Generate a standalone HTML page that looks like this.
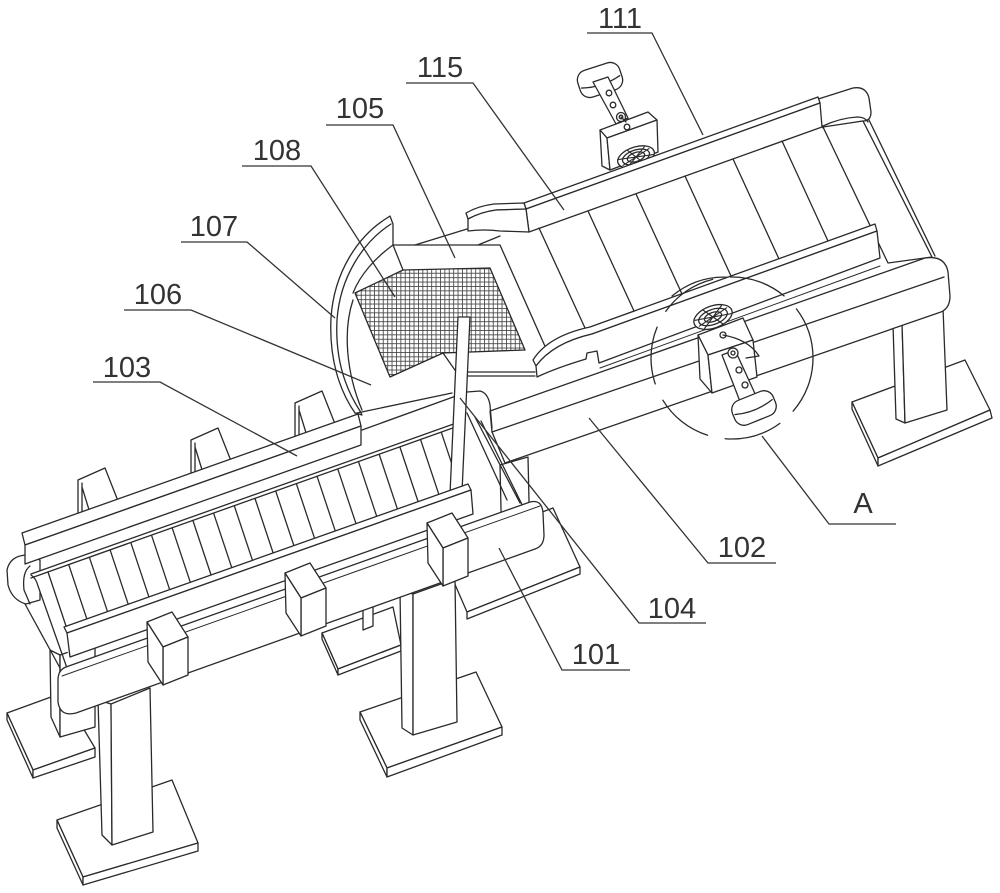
<!DOCTYPE html>
<html><head><meta charset="utf-8"><style>
html,body{margin:0;padding:0;background:#fff;}
svg{display:block;}
text{font-family:"Liberation Sans",sans-serif;font-size:29px;fill:#333;}
</style></head><body>
<svg width="1000" height="893" viewBox="0 0 1000 893" xmlns="http://www.w3.org/2000/svg">
<defs>
<pattern id="grid" width="4.4" height="4.4" patternUnits="userSpaceOnUse">
<rect width="4.4" height="4.4" fill="#fff"/>
<path d="M0 0.4H4.4M0.4 0V4.4" stroke="#444" stroke-width="0.9" fill="none"/>
</pattern>
</defs>
<rect width="1000" height="893" fill="#fff"/>
<g fill="#fff" stroke="#2a2a2a" stroke-width="1.3" stroke-linejoin="round" stroke-linecap="round">

<!-- ===== Upper conveyor right foot & leg ===== -->
<polygon points="852,402 965,360 990,410 878,458"/>
<polygon points="852,402 878,458 878,466 852,409"/>
<polygon points="878,458 990,410 992,418 878,466"/>
<polygon points="893,325 902,322 905,423 896,419"/>
<polygon points="902,322 943,308 947,410 905,423"/>

<!-- ===== Upper motor (111 area) ===== -->
<g transform="translate(600,80) rotate(-18)">
<rect x="-22" y="-14" width="44" height="28" rx="10"/>
<path d="M-20,2 Q0,8 20,2" fill="none"/>
</g>
<polygon points="593,82 608,77 628,118 616,124"/>
<circle cx="609" cy="93" r="2.8"/>
<circle cx="613" cy="105" r="2.8"/>
<circle cx="621" cy="117" r="4.5"/>
<circle cx="621" cy="117" r="1.8"/>
<polygon points="600,130 648,112 657,120 607,138"/>
<polygon points="600,130 607,138 610,170 602,166"/>
<polygon points="607,138 657,120 658,152 610,170"/>
<circle cx="627" cy="127" r="2.8"/>
<path d="M621,117 L626,122" fill="none"/>
<g transform="translate(636,157) rotate(-18)">
<ellipse rx="19" ry="10"/>
<ellipse rx="14" ry="7" fill="none"/>
<ellipse rx="9" ry="4.5" fill="none"/>
<path d="M-17,-3 L17,3 M-15,4 L15,-4 M-6,-9 L6,9 M-11,7 L11,-7" fill="none" stroke-width="1.1"/>
</g>

<!-- ===== Upper conveyor back frame right end ===== -->
<path d="M812,101 L853,88 Q866,86 869,98 L871,112 Q871,121 863,121 L823,128 Z"/>
<path d="M823,126 Q840,118 857,117 Q865,117 868,122" fill="none"/>
<polygon points="823,127 863,121 932,257 888,263"/>
<path d="M869,120 L935,256" fill="none"/>

<!-- ===== Back rail 115 with lip ===== -->
<polygon points="524,203 818,97 820,103 526,209"/>
<polygon points="526,209 820,103 822,127 529,232"/>
<path d="M466,213 Q478,206 494,204 L524,203 L526,209 L496,210 Q481,212 468,219 Z"/>
<path d="M468,219 Q481,212 496,210 L526,209 L529,232 L500,231 Q484,229 468,231 Z"/>

<!-- ===== Upper belt slats ===== -->
<g fill="none">
<path d="M539,228 L585,328"/>
<path d="M588,211 L634,311"/>
<path d="M636,194 L682,294"/>
<path d="M685,176 L731,276"/>
<path d="M733,159 L779,259"/>
<path d="M782,141 L828,241"/>
<path d="M672,296 Q700,273 736,278"/>
</g>

<!-- ===== Hopper 105 / mesh 108 / shield 107 / plate 106 ===== -->
<path d="M393,245 L500,245 L548,353" fill="none"/>
<path d="M415,245 L467,229 M478,245 L500,236" fill="none"/>
<path d="M393,245 C375,258 360,275 353,293" fill="none"/>
<path d="M353,300 C343,330 346,372 362,410" fill="none"/>
<polygon points="355,293 403,270 490,268 525,350 443,353 390,377" fill="url(#grid)"/>
<path d="M393,245 L403,270" fill="none"/>
<path d="M443,353 L457,373 M457,372 L535,372 M457,376 L535,376" fill="none"/>
<path d="M387,218 C358,236 334,272 331,318 C329,358 339,390 355,413" fill="none"/>
<path d="M391,224 C363,242 340,277 337,320 C335,358 345,388 360,411" fill="none"/>
<path d="M387,218 L390,216 L393,224 L393,245" fill="none"/>
<path d="M355,413 L362,415 L360,411" fill="none"/>

<!-- ===== 102 bar ===== -->
<path d="M490,411 L925,258 Q945,255 948,272 L950,296 Q950,310 938,313 L505,463 L492,432 Z"/>
<path d="M492,432 L944,277" fill="none"/>

<!-- ===== Upper front guard ===== -->
<path d="M533,360 Q548,336 590,327 L875,224 L877,231 L592,334 Q553,343 536,366 Z"/>
<path d="M536,366 Q553,343 592,334 L877,231 L880,258 L599,363 L597,351 L587,353 L586,359 Q556,368 537,377 Z"/>
<path d="M600,368 L880,266" fill="none" stroke-width="1"/>

<!-- ===== Motor A ===== -->
<polygon points="698,335 743,318 753,340 708,355"/>
<polygon points="698,335 708,355 712,393 700,379"/>
<polygon points="708,355 753,340 757,377 712,393"/>
<g transform="translate(713,317) rotate(-20)">
<ellipse rx="20" ry="11"/>
<ellipse rx="15" ry="7.5" fill="none"/>
<ellipse rx="9" ry="4.5" fill="none"/>
<path d="M-18,-3 L18,3 M-16,4 L16,-4 M-7,-10 L7,10 M-12,8 L12,-8" fill="none" stroke-width="1.1"/>
</g>
<polygon points="722,355 735,350 757,398 741,404"/>
<g transform="translate(754,408) rotate(-22)">
<rect x="-22" y="-13" width="44" height="26" rx="10"/>
<path d="M-20,-1 Q0,5 20,-1" fill="none"/>
</g>
<circle cx="723" cy="335" r="3"/>
<circle cx="733" cy="353" r="5"/>
<circle cx="733" cy="353" r="2"/>
<circle cx="739" cy="370" r="3"/>
<circle cx="745" cy="385" r="3"/>
<path d="M723,335 C740,338 752,345 759,356 L746,358" fill="none"/>
<circle cx="732" cy="358" r="81" fill="none" stroke-dasharray="58 18"/>

<!-- ===== Right plate (upper-left support) & leg ===== -->
<polygon points="440,550 553,508 580,567 467,612"/>
<polygon points="467,612 580,567 580,574 467,619"/>
<polygon points="500,465 528,457 530,545 502,553"/>

<!-- ===== Lower conveyor back-left foot & leg ===== -->
<polygon points="7,713 62,693 95,748 33,770"/>
<polygon points="7,713 33,770 33,778 7,720"/>
<polygon points="33,770 95,748 95,757 33,778"/>
<polygon points="50,650 60,655 60,737 51,717"/>
<polygon points="60,655 95,643 95,727 60,737"/>

<!-- ===== Middle foot & leg ===== -->
<polygon points="322,633 393,607 401,645 338,669"/>
<polygon points="322,633 338,669 338,675 322,639"/>
<polygon points="338,669 401,645 401,651 338,675"/>
<polygon points="363,598 373,595 373,626 363,630"/>

<!-- ===== Front-right foot & leg ===== -->
<polygon points="360,712 476,672 502,727 387,768"/>
<polygon points="360,712 387,768 387,777 360,720"/>
<polygon points="387,768 502,727 502,735 387,777"/>
<polygon points="400,590 413,594 413,735 402,728"/>
<polygon points="413,594 455,579 457,722 413,735"/>

<!-- ===== Front-left foot & leg ===== -->
<polygon points="57,820 172,780 198,843 83,877"/>
<polygon points="57,820 83,877 83,885 57,828"/>
<polygon points="83,877 198,843 198,851 83,885"/>
<polygon points="98,700 111,704 112,845 102,835"/>
<polygon points="111,704 150,688 153,832 112,845"/>

<!-- ===== Lower conveyor back frame ends ===== -->
<path d="M26,555 Q10,556 7,570 L8,585 Q12,600 26,604 L40,600 L40,560 Z"/>
<path d="M30,566 Q22,572 24,590 L30,604" fill="none"/>
<path d="M25,604 L60,668" fill="none"/>
<path d="M362,430 L467,392 L480,391 Q488,393 490,405 L492,428" fill="none"/>
<path d="M357,413 L452,393" fill="none"/>

<!-- ===== Back brackets ===== -->
<g transform="translate(78,480)"><polygon points="0,0 27,-12 42,26 42,45 0,45"/><path d="M4,3 L4,34 M4,7 L12,33" fill="none"/></g>
<g transform="translate(191,440)"><polygon points="0,0 27,-12 42,26 42,45 0,45"/><path d="M4,3 L4,34 M4,7 L12,33" fill="none"/></g>
<g transform="translate(295,403)"><polygon points="0,0 27,-12 42,26 42,45 0,45"/><path d="M4,3 L4,34 M4,7 L12,33" fill="none"/></g>

<!-- ===== Back rail 103 ===== -->
<polygon points="22,533 358,414 361,426 25,545"/>
<polygon points="25,545 361,426 361,445 25,564"/>

<!-- ===== Lower belt ===== -->
<polygon points="31,574 462,421 473,514 70,657" stroke="none"/>
<path d="M31,574 L462,421 M31,578 L464,424" fill="none"/>
<path d="M31,575 Q36,578 38,586 L67,668" fill="none"/>
<g fill="none">
<path d="M48,572 L68,632"/><path d="M68.7,564.6 L88.7,624.6"/><path d="M89.4,557.3 L109.4,617.3"/>
<path d="M110.1,549.9 L130.1,609.9"/><path d="M130.8,542.6 L150.8,602.6"/><path d="M151.5,535.2 L171.5,595.2"/>
<path d="M172.2,527.9 L192.2,587.9"/><path d="M192.9,520.5 L212.9,580.5"/><path d="M213.6,513.2 L233.6,573.2"/>
<path d="M234.3,505.8 L254.3,565.8"/><path d="M255,498.5 L275,558.5"/><path d="M275.7,491.1 L295.7,551.1"/>
<path d="M296.4,483.8 L316.4,543.8"/><path d="M317.1,476.4 L337.1,536.4"/><path d="M337.8,469.1 L357.8,529.1"/>
<path d="M358.5,461.7 L378.5,521.7"/><path d="M379.2,454.4 L399.2,514.4"/><path d="M399.9,447 L419.9,507"/>
<path d="M420.6,439.7 L440.6,499.7"/><path d="M441.3,432.3 L461.3,492.3"/>
</g>
<!-- right end of lower belt -->
<path d="M467,413 L507,500 M475,417 L520,503 M481,421 L533,527" fill="none"/>

<!-- ===== Vertical rod ===== -->
<polygon points="458,317 470,317 462,492 450,494"/>

<!-- ===== Inner front guard ===== -->
<polygon points="64,627 468,484 471,490 67,633"/>
<polygon points="67,633 471,490 473,514 70,657"/>

<!-- ===== Front frame (101) ===== -->
<path d="M66,667 L530,502 Q542,499 543,513 L544,535 Q544,546 535,549 L76,713 Q60,717 58,702 L58,680 Q58,670 66,667 Z"/>
<path d="M62,676 L540,506" fill="none" stroke-width="1"/>

<!-- ===== Front brackets ===== -->
<g transform="translate(147,622)"><polygon points="0,0 25,-10 41,15 16,25"/><polygon points="16,25 41,15 41,53 16,63"/><polygon points="0,0 16,25 16,63 1,40"/></g>
<g transform="translate(285,573)"><polygon points="0,0 25,-10 41,15 16,25"/><polygon points="16,25 41,15 41,53 16,63"/><polygon points="0,0 16,25 16,63 1,40"/></g>
<g transform="translate(427,523)"><polygon points="0,0 25,-10 41,15 16,25"/><polygon points="16,25 41,15 41,53 16,63"/><polygon points="0,0 16,25 16,63 1,40"/></g>

</g>

<!-- ===== Labels & leaders ===== -->
<g fill="none" stroke="#333" stroke-width="1.3">
<path d="M587,33 L652,33 L703,135"/>
<path d="M406,83 L473,83 L564,210"/>
<path d="M326,125 L393,125 L455,258"/>
<path d="M242,166 L311,166 L395,297"/>
<path d="M181,242 L247,242 L335,318"/>
<path d="M124,310 L191,310 L371,385"/>
<path d="M93,382 L160,382 L297,456"/>
<path d="M896,524 L829,524 L762,436"/>
<path d="M776,563 L708,563 L589,418"/>
<path d="M706,623 L639,623 L460,398"/>
<path d="M630,670 L562,670 L499,548"/>
</g>
<g text-anchor="middle">
<text x="620" y="28">111</text>
<text x="440" y="77">115</text>
<text x="360" y="118">105</text>
<text x="277" y="160">108</text>
<text x="214" y="236">107</text>
<text x="158" y="304">106</text>
<text x="127" y="377">103</text>
<text x="863" y="513">A</text>
<text x="742" y="557">102</text>
<text x="672" y="618">104</text>
<text x="596" y="664">101</text>
</g>
</svg>
</body></html>
